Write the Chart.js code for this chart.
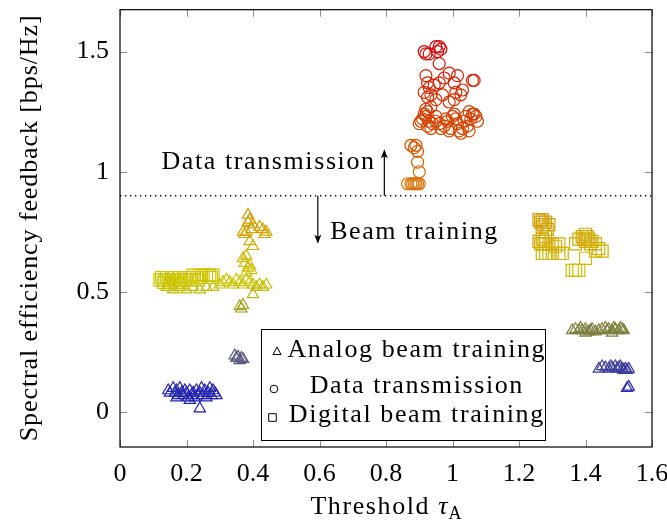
<!DOCTYPE html>
<html>
<head>
<meta charset="utf-8">
<script src="https://cdn.jsdelivr.net/npm/chart.js@4.4.0/dist/chart.umd.min.js"></script>
<style>
  html, body { margin: 0; padding: 0; background: #fff; }
  #wrap { width: 667px; height: 521px; }
</style>
</head>
<body>
<div id="wrap"><canvas id="scatterChart" width="667" height="521"></canvas></div>
<script>
"use strict";

/* data */
var seriesNames = ["Analog beam training", "Data transmission", "Digital beam training"];
var xTicks = [0, 0.2, 0.4, 0.6, 0.8, 1, 1.2, 1.4, 1.6];
var yTicks = [0, 0.5, 1, 1.5];
var threshold = 0.9;

var analogPts = [
  [0.145,0.09],[0.15,0.08],[0.16,0.10],[0.165,0.08],[0.17,0.09],[0.175,0.07],[0.18,0.10],[0.185,0.08],
  [0.19,0.07],[0.195,0.09],[0.20,0.08],[0.205,0.06],[0.21,0.09],[0.215,0.07],[0.22,0.08],[0.225,0.06],
  [0.23,0.09],[0.235,0.07],[0.24,0.08],[0.245,0.10],[0.25,0.07],[0.255,0.09],[0.26,0.06],[0.265,0.08],
  [0.27,0.10],[0.275,0.07],[0.28,0.09],[0.285,0.08],[0.29,0.07],[0.24,0.015],[0.17,0.06],[0.21,0.05],
  [0.345,0.235],[0.35,0.225],[0.355,0.23],[0.36,0.215],[0.365,0.225],[0.37,0.22],
  [0.36,0.44],[0.365,0.43],[0.37,0.445],
  [0.14,0.52],[0.16,0.51],[0.18,0.52],[0.20,0.51],[0.22,0.52],[0.24,0.51],[0.26,0.52],[0.28,0.52],
  [0.30,0.53],[0.31,0.54],[0.32,0.55],[0.33,0.54],[0.34,0.53],[0.35,0.55],[0.36,0.54],[0.37,0.53],
  [0.38,0.55],[0.39,0.54],[0.40,0.53],[0.41,0.52],[0.42,0.53],[0.43,0.52],[0.44,0.53],[0.40,0.49],
  [0.37,0.64],[0.375,0.62],[0.38,0.65],[0.385,0.60],[0.39,0.61],[0.38,0.58],[0.395,0.59],
  [0.385,0.82],[0.39,0.80],[0.385,0.79],[0.40,0.78],[0.395,0.76],[0.37,0.75],[0.375,0.74],[0.38,0.75],
  [0.42,0.77],[0.43,0.76],[0.435,0.74],[0.44,0.75],[0.39,0.71],[0.40,0.69],
  [1.36,0.34],[1.37,0.345],[1.38,0.34],[1.385,0.35],[1.39,0.34],[1.40,0.345],[1.41,0.335],[1.415,0.34],
  [1.42,0.345],[1.43,0.335],[1.44,0.34],[1.45,0.345],[1.46,0.35],[1.465,0.34],[1.47,0.345],[1.48,0.34],
  [1.485,0.35],[1.49,0.345],[1.50,0.34],[1.505,0.35],[1.51,0.345],[1.515,0.34],[1.40,0.33],[1.48,0.33],
  [1.44,0.18],[1.45,0.19],[1.46,0.185],[1.47,0.18],[1.475,0.19],[1.48,0.185],[1.49,0.19],[1.495,0.18],
  [1.50,0.185],[1.505,0.19],[1.51,0.18],[1.515,0.175],[1.52,0.18],[1.525,0.175],[1.53,0.18],
  [1.525,0.10],[1.53,0.105]
];

var dataTxPts = [
  [0.915,1.50],[0.92,1.49],[0.93,1.49],[0.95,1.52],[0.96,1.52],[0.965,1.51],[0.955,1.50],[0.96,1.45],
  [0.92,1.40],[0.925,1.37],[0.93,1.35],[0.915,1.33],[0.925,1.31],[0.935,1.32],[0.945,1.36],[0.95,1.30],
  [0.96,1.37],[0.975,1.39],[0.99,1.41],[1.005,1.37],[1.015,1.40],[1.01,1.33],[1.025,1.32],[1.03,1.34],
  [1.005,1.30],[0.99,1.29],[0.97,1.32],[0.935,1.27],[0.92,1.26],[1.06,1.38],[1.065,1.38],
  [0.90,1.20],[0.905,1.21],[0.91,1.22],[0.915,1.24],[0.92,1.23],[0.925,1.25],[0.93,1.21],[0.935,1.18],
  [0.925,1.19],[0.94,1.20],[0.95,1.21],[0.96,1.20],[0.965,1.18],[0.975,1.19],[0.98,1.22],[0.985,1.21],
  [0.99,1.17],[0.995,1.18],[1.0,1.23],[1.005,1.24],[1.01,1.22],[1.015,1.20],[1.02,1.17],[1.025,1.16],
  [1.03,1.18],[1.035,1.21],[1.04,1.23],[1.045,1.19],[1.05,1.17],[1.055,1.22],[1.06,1.24],[1.065,1.24],
  [1.07,1.23],[1.075,1.21],[1.05,1.25],[0.95,1.23],
  [0.89,1.11],[0.875,1.11],[0.885,1.10],[0.895,1.085],[0.895,1.04],[0.90,1.00],
  [0.865,0.95],[0.875,0.95],[0.88,0.95],[0.885,0.95],[0.89,0.95],[0.895,0.95],[0.90,0.95]
];

var digitalPts = [
  [0.12,0.55],[0.125,0.56],[0.13,0.54],[0.135,0.55],[0.14,0.56],[0.145,0.55],[0.15,0.54],[0.155,0.56],
  [0.16,0.55],[0.165,0.56],[0.17,0.54],[0.175,0.55],[0.18,0.56],[0.185,0.55],[0.19,0.54],[0.195,0.56],
  [0.20,0.55],[0.21,0.56],[0.215,0.55],[0.22,0.57],[0.23,0.56],[0.235,0.55],[0.24,0.57],[0.245,0.56],
  [0.25,0.57],[0.26,0.57],[0.27,0.57],[0.275,0.56],[0.28,0.57],[0.15,0.53],[0.18,0.53],
  [1.26,0.80],[1.265,0.79],[1.27,0.80],[1.275,0.78],[1.28,0.79],[1.29,0.78],[1.27,0.77],[1.285,0.76],
  [1.26,0.71],[1.265,0.70],[1.27,0.72],[1.275,0.70],[1.28,0.71],[1.29,0.70],[1.30,0.70],[1.31,0.69],
  [1.32,0.70],[1.28,0.73],
  [1.27,0.66],[1.28,0.66],[1.29,0.66],[1.30,0.66],[1.32,0.66],[1.33,0.66],
  [1.36,0.59],[1.37,0.59],[1.38,0.59],
  [1.37,0.70],[1.38,0.72],[1.39,0.73],[1.395,0.72],[1.40,0.71],[1.405,0.73],[1.41,0.72],[1.40,0.74],
  [1.415,0.70],[1.42,0.71],[1.43,0.70],[1.44,0.68],[1.45,0.67],[1.43,0.67],[1.40,0.64]
];

/* colour by y value (blue -> yellow -> red) */
var cmap = [
  [0.00, [20, 20, 190]],
  [0.18, [60, 60, 160]],
  [0.22, [90, 90, 130]],
  [0.35, [130, 130, 60]],
  [0.55, [205, 200, 0]],
  [0.80, [212, 155, 0]],
  [0.95, [215, 115, 10]],
  [1.20, [210, 70, 0]],
  [1.50, [210, 10, 10]]
];
function colorFor(v) {
  if (v <= cmap[0][0]) return "rgb(" + cmap[0][1].join(",") + ")";
  for (var i = 1; i < cmap.length; i++) {
    if (v <= cmap[i][0]) {
      var a = cmap[i - 1], b = cmap[i];
      var t = (v - a[0]) / (b[0] - a[0]);
      var c = a[1].map(function (ch, k) { return Math.round(ch + (b[1][k] - ch) * t); });
      return "rgb(" + c.join(",") + ")";
    }
  }
  return "rgb(" + cmap[cmap.length - 1][1].join(",") + ")";
}

function toXY(list) { return list.map(function (p) { return { x: p[0], y: p[1] }; }); }
function colors(list) { return list.map(function (p) { return colorFor(p[1]); }); }

var FONT = "'Liberation Serif', 'Times New Roman', serif";
Chart.defaults.font.family = FONT;
Chart.defaults.font.size = 26;
Chart.defaults.color = "#000";

// text drawn glyph by glyph with a little extra spacing (Times is narrower than the TeX font)
function textWidth(ctx, str, sp) {
  var w = 0;
  for (var i = 0; i < str.length; i++) w += ctx.measureText(str[i]).width + (i < str.length - 1 ? sp : 0);
  return w;
}
function spacedText(ctx, str, x, y, align, sp) {
  var w = textWidth(ctx, str, sp);
  var cx = align === "right" ? x - w : (align === "center" ? x - w / 2 : x);
  ctx.textAlign = "left";
  for (var i = 0; i < str.length; i++) {
    ctx.fillText(str[i], cx, y);
    cx += ctx.measureText(str[i]).width + sp;
  }
  return w;
}

/* frame, inside tick marks on all sides, arrows, notes, legend, axis titles */
var decoPlugin = {
  id: "deco",
  beforeDatasetsDraw: function (chart) {
    var ctx = chart.ctx, a = chart.chartArea;
    var sx = chart.scales.x, sy = chart.scales.y;
    ctx.save();
    ctx.strokeStyle = "#8c8c8c";
    ctx.lineWidth = 1;
    ctx.beginPath();
    xTicks.forEach(function (v) {
      var px = Math.round(sx.getPixelForValue(v)) + 0.5;
      ctx.moveTo(px, a.bottom); ctx.lineTo(px, a.bottom - 7);
      ctx.moveTo(px, a.top); ctx.lineTo(px, a.top + 7);
    });
    yTicks.forEach(function (v) {
      var py = Math.round(sy.getPixelForValue(v)) + 0.5;
      ctx.moveTo(a.left, py); ctx.lineTo(a.left + 7, py);
      ctx.moveTo(a.right, py); ctx.lineTo(a.right - 7, py);
    });
    ctx.stroke();
    ctx.restore();
  },
  afterDraw: function (chart) {
    var ctx = chart.ctx, a = chart.chartArea;
    var sx = chart.scales.x, sy = chart.scales.y;
    ctx.save();

    // frame
    ctx.strokeStyle = "#000";
    ctx.lineWidth = 1.2;
    ctx.strokeRect(a.left, a.top, a.right - a.left, a.bottom - a.top);

    // arrows from the threshold line
    function arrow(xv, y0, y1) {
      var px = sx.getPixelForValue(xv);
      var p0 = sy.getPixelForValue(y0), p1 = sy.getPixelForValue(y1);
      var dir = p1 < p0 ? 1 : -1;
      ctx.strokeStyle = "#000"; ctx.fillStyle = "#000"; ctx.lineWidth = 1.2;
      ctx.beginPath(); ctx.moveTo(px, p0); ctx.lineTo(px, p1 + dir * 6); ctx.stroke();
      ctx.beginPath();
      ctx.moveTo(px, p1);
      ctx.lineTo(px - 3.5, p1 + dir * 9);
      ctx.lineTo(px, p1 + dir * 7);
      ctx.lineTo(px + 3.5, p1 + dir * 9);
      ctx.closePath(); ctx.fill();
    }
    arrow(0.795, threshold, 1.094);
    arrow(0.595, threshold, 0.70);

    ctx.font = "26px " + FONT;
    ctx.fillStyle = "#000";
    ctx.textBaseline = "alphabetic";
    spacedText(ctx, "Data transmission", sx.getPixelForValue(0.764), sy.getPixelForValue(1.011), "right", 1.6);
    spacedText(ctx, "Beam training", sx.getPixelForValue(0.632), sy.getPixelForValue(0.721), "left", 1.6);

    // legend
    var lx = 261.5, ly = 329.5, lw = 284, lh = 111;
    ctx.fillStyle = "#fff";
    ctx.fillRect(lx, ly, lw, lh);
    ctx.strokeStyle = "#000"; ctx.lineWidth = 1;
    ctx.strokeRect(lx, ly, lw, lh);
    var rows = [
      { icon: "triangle", ix: 277, iy: 351.5, base: 357 },
      { icon: "circle", ix: 274, iy: 389, base: 393 },
      { icon: "rect", ix: 272.5, iy: 417.5, base: 422 }
    ];
    rows.forEach(function (r, i) {
      ctx.strokeStyle = "#000"; ctx.lineWidth = 1;
      ctx.beginPath();
      if (r.icon === "triangle") {
        ctx.moveTo(r.ix, r.iy - 4.5); ctx.lineTo(r.ix + 4, r.iy + 3); ctx.lineTo(r.ix - 4, r.iy + 3); ctx.closePath();
      } else if (r.icon === "circle") {
        ctx.arc(r.ix, r.iy, 3.8, 0, Math.PI * 2);
      } else {
        ctx.rect(r.ix - 3.8, r.iy - 3.8, 7.6, 7.6);
      }
      ctx.stroke();
      ctx.fillStyle = "#000";
      spacedText(ctx, seriesNames[i], 416, r.base, "center", 1.6);
    });

    // y title
    ctx.save();
    ctx.translate(30, (a.top + a.bottom) / 2);
    ctx.rotate(-Math.PI / 2);
    ctx.textBaseline = "middle";
    spacedText(ctx, "Spectral efficiency feedback [bps/Hz]", 0, 0, "center", 0.9);
    ctx.restore();

    // x title with subscript
    ctx.textBaseline = "alphabetic";
    var t1 = "Threshold ", t2 = "\u03C4", t3 = "A";
    ctx.font = "26px " + FONT; var w1 = textWidth(ctx, t1, 1.6) + 1.6;
    ctx.font = "italic 26px " + FONT; var w2 = ctx.measureText(t2).width + 1;
    ctx.font = "18px " + FONT; var w3 = ctx.measureText(t3).width;
    var cx = (a.left + a.right) / 2, start = cx - (w1 + w2 + w3) / 2, base = 514;
    ctx.font = "26px " + FONT; spacedText(ctx, t1, start, base, "left", 1.6);
    ctx.font = "italic 26px " + FONT; ctx.fillText(t2, start + w1, base);
    ctx.font = "18px " + FONT; ctx.fillText(t3, start + w1 + w2, base + 5);

    ctx.restore();
  }
};

var ctx = document.getElementById("scatterChart");
var myChart = new Chart(ctx, {
  type: "scatter",
  data: {
    datasets: [
      {
        label: seriesNames[2],
        data: toXY(digitalPts),
        pointStyle: "rect",
        pointRadius: 8.5,
        pointBorderWidth: 1.2,
        pointBorderColor: colors(digitalPts),
        pointBackgroundColor: "rgba(0,0,0,0)",
        order: 0
      },
      {
        label: seriesNames[1],
        data: toXY(dataTxPts),
        pointStyle: "circle",
        pointRadius: 6,
        pointBorderWidth: 1.2,
        pointBorderColor: colors(dataTxPts),
        pointBackgroundColor: "rgba(0,0,0,0)",
        order: 1
      },
      {
        label: seriesNames[0],
        data: toXY(analogPts),
        pointStyle: "triangle",
        pointRadius: 6.5,
        pointBorderWidth: 1.2,
        pointBorderColor: colors(analogPts),
        pointBackgroundColor: "rgba(0,0,0,0)",
        order: 2
      },
      {
        type: "line",
        label: "threshold",
        data: [{ x: xTicks[0], y: threshold }, { x: xTicks[xTicks.length - 1], y: threshold }],
        borderColor: "#000",
        borderWidth: 1.3,
        borderDash: [1.3, 3.7],
        pointRadius: 0,
        order: 3
      }
    ]
  },
  options: {
    responsive: false,
    animation: false,
    devicePixelRatio: 1,
    layout: { padding: { top: 8, right: 15, left: 0, bottom: 0 } },
    plugins: { legend: { display: false }, tooltip: { enabled: false } },
    scales: {
      x: {
        type: "linear",
        min: 0,
        max: 1.6,
        afterBuildTicks: function (s) { s.ticks = xTicks.map(function (v) { return { value: v }; }); },
        afterFit: function (s) { s.height = 74; s.paddingLeft = 0; s.paddingRight = 0; },
        grid: { display: false, drawTicks: false },
        border: { display: false },
        ticks: { padding: 12, autoSkip: false, maxRotation: 0, callback: function (v) { return String(v); } }
      },
      y: {
        type: "linear",
        min: -0.145,
        max: 1.674,
        afterBuildTicks: function (s) { s.ticks = yTicks.map(function (v) { return { value: v }; }); },
        afterFit: function (s) { s.width = 120; s.paddingTop = 0; s.paddingBottom = 0; },
        grid: { display: false, drawTicks: false },
        border: { display: false },
        ticks: { padding: 11, autoSkip: false, callback: function (v) { return String(v); } }
      }
    }
  },
  plugins: [decoPlugin]
});
</script>
</body>
</html>
